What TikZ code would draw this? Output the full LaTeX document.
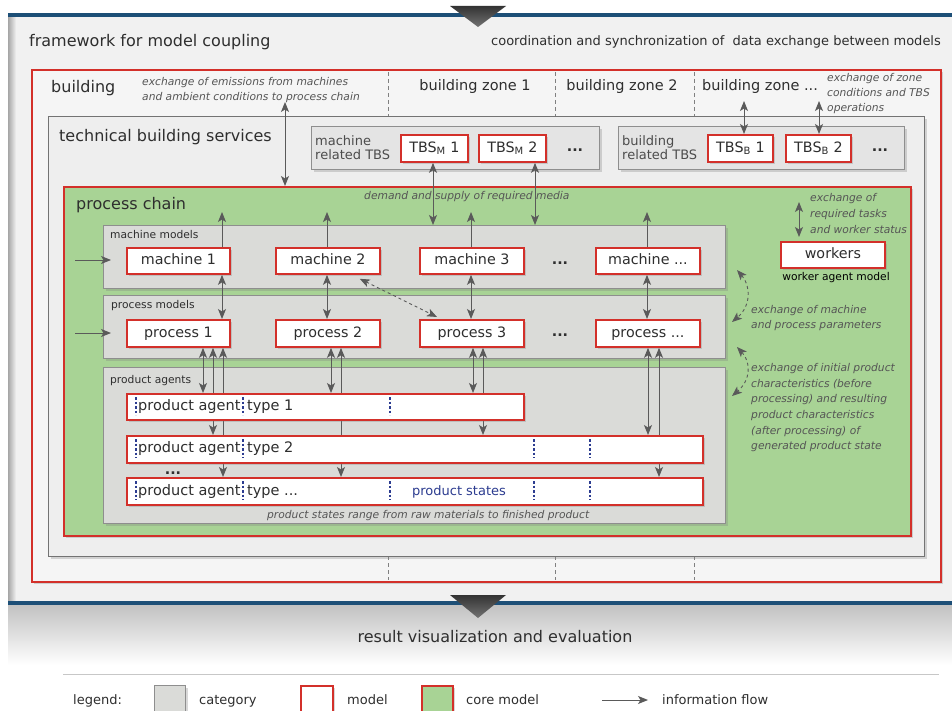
\documentclass[tikz,border=0pt]{standalone}
\usepackage{fontspec}
\setmainfont{DejaVu Sans}
\usetikzlibrary{arrows.meta,shadows,calc}
\pgfdeclarelayer{back}
\pgfdeclarelayer{mid}
\pgfsetlayers{back,mid,main}
\definecolor{fwblue}{HTML}{1D4F77}
\definecolor{mred}{HTML}{D3302A}
\definecolor{cgreen}{HTML}{A8D395}
\definecolor{catgray}{HTML}{DADBD8}
\definecolor{tbsgray}{HTML}{E4E4E4}
\definecolor{tbsbg}{HTML}{EEEEEE}
\definecolor{fwbg}{HTML}{F1F1F1}
\definecolor{bldbg}{HTML}{F5F5F5}
\definecolor{arrgray}{HTML}{5A5A5A}
\definecolor{boxline}{HTML}{8E8E8E}
\definecolor{pblue}{HTML}{2C3C90}
\definecolor{txtgray}{HTML}{2E2E2E}
\definecolor{itgray}{HTML}{555555}
\newcommand\fBig{\fontsize{16}{19}\selectfont}
\newcommand\fZone{\fontsize{14.5}{17}\selectfont}
\newcommand\fModel{\fontsize{14.3}{17}\selectfont}
\newcommand\fMid{\fontsize{13}{14}\selectfont}
\newcommand\fSmall{\fontsize{10.7}{15}\selectfont}
\newcommand\fItal{\fontsize{10.7}{15.6}\selectfont\itshape}
\begin{document}
\begin{tikzpicture}[x=1pt,y=-1pt,>={Stealth[length=10pt,width=8pt,inset=2.5pt]},
  shad/.style={drop shadow={shadow xshift=2.5pt,shadow yshift=-2.5pt,opacity=0.3}},
  cat/.style={draw=boxline,line width=0.9pt,fill=catgray,inner sep=0pt,anchor=north west,shad},
  subtbs/.style={draw=boxline,line width=0.9pt,fill=tbsgray,inner sep=0pt,anchor=north west,shad},
  model/.style={draw=mred,line width=1.8pt,fill=white,inner sep=0pt,anchor=north west,font=\fModel,text=txtgray,text height=10.5pt,text depth=3pt,shad},
  core/.style={draw=mred,line width=1.8pt,fill=cgreen,inner sep=0pt,anchor=north west,shad},
  flow/.style={draw=arrgray,line width=1pt,->},
  bflow/.style={draw=arrgray,line width=1pt,<->},
  dflow/.style={draw=arrgray,line width=0.9pt,<->,dash pattern=on 3pt off 3pt},
  zdash/.style={draw=black!50,line width=0.8pt,dash pattern=on 4pt off 3pt},
  pdash/.style={draw=pblue,line width=1.1pt,dash pattern=on 2.5pt off 2pt},
  lbl/.style={inner sep=0pt,anchor=base west,text=txtgray},
  itl/.style={inner sep=0pt,anchor=north west,align=left,font=\fItal,text=itgray},
  dots/.style={inner sep=0pt,anchor=base,font=\fModel\bfseries,text=txtgray}]
\useasboundingbox (0,0) rectangle (952,711);

\begin{pgfonlayer}{back}
  \fill[white] (0,0) rectangle (952,711);
  \node[fill=fwbg,inner sep=0pt,anchor=north west,minimum width=944pt,minimum height=588pt] (fw) at (8,15) {};
  \shade[left color=black!35,right color=fwbg] (8,15) rectangle (16,601);
  \shade[top color=black!24,bottom color=white] (8,605) rectangle (952,665);
  \node[draw=mred,line width=1.6pt,fill=bldbg,inner sep=0pt,anchor=north west,minimum width=909pt,minimum height=512pt,shad] (bld) at (31,69) {};
  \foreach \zx in {388,555,694}{
    \draw[zdash] (\zx,72) -- (\zx,116);
    \draw[zdash] (\zx,556) -- (\zx,580);
  }
  \node[draw=black!55,line width=1pt,fill=tbsbg,inner sep=0pt,anchor=north west,minimum width=876pt,minimum height=440pt,shad] (tbs) at (48,116) {};
  \node[subtbs,minimum width=288pt,minimum height=43pt] (mtbs) at (311,126) {};
  \node[subtbs,minimum width=286pt,minimum height=43pt] (btbs) at (618,126) {};
  \node[core,minimum width=847pt,minimum height=349pt] (pc) at (63,186) {};
  \node[cat,minimum width=622pt,minimum height=63pt] (mm) at (103,225) {};
  \node[cat,minimum width=622pt,minimum height=63pt] (pm) at (103,295) {};
  \node[cat,minimum width=622pt,minimum height=156pt] (pa) at (103,367) {};
\end{pgfonlayer}

% model nodes
\node[model,minimum width=67pt,minimum height=27pt] (tm1) at (400,134) {TBS\textsubscript{M} 1};
\node[model,minimum width=67pt,minimum height=27pt] (tm2) at (478,134) {TBS\textsubscript{M} 2};
\node[model,minimum width=65pt,minimum height=27pt] (tb1) at (707,134) {TBS\textsubscript{B} 1};
\node[model,minimum width=65pt,minimum height=27pt] (tb2) at (785,134) {TBS\textsubscript{B} 2};
\node[model,minimum width=103pt,minimum height=26pt] (m1) at (126,247) {machine 1};
\node[model,minimum width=104pt,minimum height=26pt] (m2) at (275,247) {machine 2};
\node[model,minimum width=104pt,minimum height=26pt] (m3) at (419,247) {machine 3};
\node[model,minimum width=104pt,minimum height=26pt] (m4) at (595,247) {machine ...};
\node[model,minimum width=103pt,minimum height=27pt] (p1) at (126,319) {process 1};
\node[model,minimum width=104pt,minimum height=27pt] (p2) at (275,319) {process 2};
\node[model,minimum width=104pt,minimum height=27pt] (p3) at (419,319) {process 3};
\node[model,minimum width=104pt,minimum height=27pt] (p4) at (595,319) {process ...};
\node[model,minimum width=397pt,minimum height=26pt] (b1) at (126,393) {};
\node[model,minimum width=576pt,minimum height=27pt] (b2) at (126,435) {};
\node[model,minimum width=576pt,minimum height=27pt] (b3) at (126,477) {};
\node[model,minimum width=104pt,minimum height=26pt] (wrk) at (780,241) {workers};

% dashed separators inside product agent bars
\foreach \px in {136,243,390}{\draw[pdash] (\px,397) -- (\px,415);}
\foreach \px in {136,243,534,590}{\draw[pdash] (\px,439) -- (\px,458);}
\foreach \px in {136,243,390,534,590}{\draw[pdash] (\px,481) -- (\px,500);}

% texts
\node[lbl,font=\fBig] (tfw) at (29,47) {framework for model coupling};
\node[inner sep=0pt,anchor=base east,font=\fMid,text=txtgray] (tco) at (941,46) {coordination and synchronization of\ \ data exchange between models};
\node[lbl,font=\fBig] (tbld) at (51,93) {building};
\node[itl] (tem) at (142,77) {exchange of emissions from machines\\and ambient conditions to process chain};
\node[inner sep=0pt,anchor=base,font=\fZone,text=txtgray] (z1) at (475,91) {building zone 1};
\node[inner sep=0pt,anchor=base,font=\fZone,text=txtgray] (z2) at (622,91) {building zone 2};
\node[lbl,font=\fZone] (z3) at (702,91) {building zone ...};
\node[itl,font=\fontsize{10.7}{15}\selectfont\itshape] (tzo) at (827,73) {exchange of zone\\conditions and TBS\\operations};
\node[lbl,font=\fBig] (ttbs) at (59,141.5) {technical building services};
\node[inner sep=0pt,anchor=north west,align=left,font=\fontsize{13}{14}\selectfont,text=black!70] (tmr) at (315,135.6) {machine\\related TBS};
\node[inner sep=0pt,anchor=north west,align=left,font=\fontsize{13}{14}\selectfont,text=black!70] (tbr) at (622,135.6) {building\\related TBS};
\node[dots] (d1) at (575,152) {...};
\node[dots] (d2) at (880,152) {...};
\node[lbl,font=\fBig] (tpc) at (76,209.5) {process chain};
\node[lbl,font=\fItal,text=itgray] (tds) at (364,200) {demand and supply of required media};
\node[lbl,font=\fSmall] (tmm) at (110,238) {machine models};
\node[lbl,font=\fSmall] (tpm) at (111,308) {process models};
\node[lbl,font=\fSmall] (tpa) at (110,383) {product agents};
\node[dots] (d3) at (560,264) {...};
\node[dots] (d4) at (560,336) {...};
\node[dots] (d5) at (173,474) {...};
\node[inner sep=0pt,anchor=base,font=\fSmall,text=black] (twm) at (836,280) {worker agent model};
\node[itl,font=\fontsize{10.7}{16}\selectfont\itshape] (twx) at (810,193) {exchange of\\required tasks\\and worker status};
\node[itl] (tmp) at (751,305) {exchange of machine\\and process parameters};
\node[itl] (tip) at (751,363.4) {exchange of initial product\\characteristics (before\\processing) and resulting\\product characteristics\\(after processing) of\\generated product state};
\node[lbl,font=\fZone] (pa1) at (138,410.5) {product agent};
\node[lbl,font=\fZone] (ty1) at (247,410.5) {type 1};
\node[lbl,font=\fZone] (pa2) at (138,452.5) {product agent};
\node[lbl,font=\fZone] (ty2) at (247,452.5) {type 2};
\node[lbl,font=\fZone] (pa3) at (138,495.5) {product agent};
\node[lbl,font=\fZone] (ty3) at (247,495.5) {type ...};
\node[inner sep=0pt,anchor=base,font=\fMid,text=pblue] (tps) at (459,495) {product states};
\node[lbl,font=\fItal,text=itgray] (tpr) at (267,518) {product states range from raw materials to finished product};

% connectors
\begin{pgfonlayer}{mid}
  \coordinate (emA) at (285,102);
  \draw[bflow] (emA) -- (emA |- pc.north);
  \coordinate (zb1) at (744,101);
  \coordinate (zb2) at (819,101);
  \draw[bflow] (zb1) -- (zb1 |- tb1.north);
  \draw[bflow] (zb2) -- (zb2 |- tb2.north);
  \coordinate (tmA) at (433,0);
  \coordinate (tmB) at (535,0);
  \draw[bflow] (tmA |- tm1.south) -- (tmA |- mm.north);
  \draw[bflow] (tmB |- tm2.south) -- (tmB |- mm.north);
  \coordinate (mu1) at (222,212);
  \coordinate (mu2) at (327,212);
  \coordinate (mu3) at (471,212);
  \coordinate (mu4) at (647,212);
  \draw[flow] (mu1 |- m1.north) -- (mu1);
  \draw[flow] (mu2 |- m2.north) -- (mu2);
  \draw[flow] (mu3 |- m3.north) -- (mu3);
  \draw[flow] (mu4 |- m4.north) -- (mu4);
  \draw[bflow] (mu1 |- m1.south) -- (mu1 |- p1.north);
  \draw[bflow] (mu2 |- m2.south) -- (mu2 |- p2.north);
  \draw[bflow] (mu3 |- m3.south) -- (mu3 |- p3.north);
  \draw[bflow] (mu4 |- m4.south) -- (mu4 |- p4.north);
  \coordinate (q11) at (203,0);
  \coordinate (q12) at (213,0);
  \coordinate (q13) at (223,0);
  \coordinate (q21) at (331,0);
  \coordinate (q22) at (341,0);
  \coordinate (q31) at (473,0);
  \coordinate (q32) at (483,0);
  \coordinate (q41) at (648,0);
  \coordinate (q42) at (659,0);
  \draw[bflow] (q11 |- p1.south) -- (q11 |- b1.north);
  \draw[bflow] (q12 |- p1.south) -- (q12 |- b2.north);
  \draw[bflow] (q13 |- p1.south) -- (q13 |- b3.north);
  \draw[bflow] (q21 |- p2.south) -- (q21 |- b1.north);
  \draw[bflow] (q22 |- p2.south) -- (q22 |- b3.north);
  \draw[bflow] (q31 |- p3.south) -- (q31 |- b1.north);
  \draw[bflow] (q32 |- p3.south) -- (q32 |- b2.north);
  \draw[bflow] (q41 |- p4.south) -- (q41 |- b2.north);
  \draw[bflow] (q42 |- p4.south) -- (q42 |- b3.north);
  \coordinate (in1) at (75,260);
  \coordinate (in1e) at (111,260);
  \coordinate (in2) at (75,333);
  \coordinate (in2e) at (111,333);
  \draw[flow] (in1) -- (in1e);
  \draw[flow] (in2) -- (in2e);
  \draw[dflow] ([xshift=-21pt,yshift=-4pt]m2.south east) -- ([xshift=18pt,yshift=2pt]p3.north west);
  \coordinate (wk) at (799,202);
  \draw[bflow,shorten >=4pt] (wk) -- (wk |- wrk.north);
  \coordinate (r1a) at (737,270);
  \coordinate (r1b) at (732,322);
  \coordinate (r2a) at (737,347);
  \coordinate (r2b) at (732,396);
  \draw[dflow] (r1a) .. controls (751,286) and (751,306) .. (r1b);
  \draw[dflow] (r2a) .. controls (751,362) and (751,380) .. (r2b);
\end{pgfonlayer}

% framework bars and triangles
\draw[fwblue,line width=4pt] (8,15) -- (952,15);
\draw[fwblue,line width=4.5pt] (8,603) -- (952,603);
\shade[top color=black!80,bottom color=black!55] (450,6) -- (506,6) -- (478,27) -- cycle;
\shade[top color=black!80,bottom color=black!55] (450,595) -- (506,595) -- (478,618) -- cycle;
\node[inner sep=0pt,anchor=base,font=\fBig,text=txtgray] (tres) at (495,642.5) {result visualization and evaluation};

% legend
\draw[black!22,line width=1pt] (63,674) -- (939,674);
\node[lbl,font=\fMid] (lgt) at (73,704) {legend:};
\node[cat,minimum width=31pt,minimum height=30pt] (lg1) at (154,685) {};
\node[lbl,font=\fMid] (lgc) at (199,704) {category};
\node[model,minimum width=32pt,minimum height=30pt] (lg2) at (300,685) {};
\node[lbl,font=\fMid] (lgm) at (347,704) {model};
\node[core,minimum width=31pt,minimum height=30pt] (lg3) at (421,685) {};
\node[lbl,font=\fMid] (lgk) at (466,704) {core model};
\coordinate (lga) at (602,700);
\coordinate (lgb) at (648,700);
\draw[flow] (lga) -- (lgb);
\node[lbl,font=\fMid] (lgf) at (662,704) {information flow};
\end{tikzpicture}
\end{document}
